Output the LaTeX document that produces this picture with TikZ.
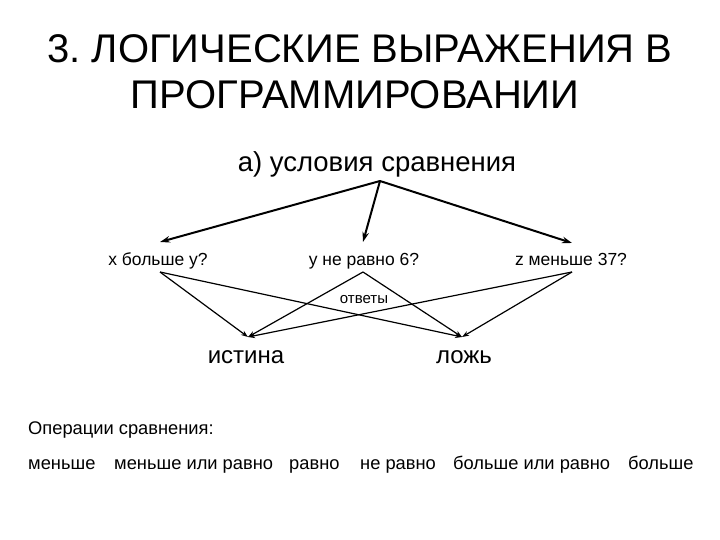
\documentclass[tikz,border=0pt]{standalone}
\usepackage{fontspec}
\setmainfont{Liberation Sans}
\usetikzlibrary{arrows.meta}
\frenchspacing
\begin{document}
\begin{tikzpicture}[x=1pt,y=-1pt,
  txt/.style={inner sep=0pt,anchor=base},
  big/.style={-{Stealth[length=10pt,width=6.5pt]},line width=2pt},
  thin/.style={-{Stealth[length=7pt,width=5pt]},line width=1.2pt}]
\useasboundingbox (0,0) rectangle (720,540);
\node[txt,font=\fontsize{40}{40}\selectfont] (title1) at (360,63) {3. ЛОГИЧЕСКИЕ ВЫРАЖЕНИЯ В};
\node[txt,font=\fontsize{40}{40}\selectfont] (title2) at (355,109) {ПРОГРАММИРОВАНИИ};
\node[txt,font=\fontsize{27.5}{27.5}\selectfont] (root) at (377,172) {а) условия сравнения};
\coordinate (src) at (380,181);
\node[txt,font=\fontsize{17.5}{17.5}\selectfont] (q1) at (158,265) {x больше y?};
\node[txt,font=\fontsize{17.5}{17.5}\selectfont] (q2) at (364,265) {y не равно 6?};
\node[txt,font=\fontsize{17.5}{17.5}\selectfont] (q3) at (571,265) {z меньше 37?};
\coordinate (q1t) at (160,242);
\coordinate (q2t) at (363,242);
\coordinate (q3t) at (572,243);
\coordinate (q1b) at (160,272);
\coordinate (q2b) at (363,272);
\coordinate (q3b) at (572,272);
\node[txt,font=\fontsize{15}{15}\selectfont] (ans) at (364,303) {ответы};
\node[txt,font=\fontsize{24}{24}\selectfont] (t) at (246,363) {истина};
\node[txt,font=\fontsize{24}{24}\selectfont] (f) at (464,363) {ложь};
\coordinate (tt) at (248,337);
\coordinate (ft) at (462,337);
\draw[big] (src) -- (q1t);
\draw[big] (src) -- (q2t);
\draw[big] (src) -- (q3t);
\draw[thin] (q1b) -- (tt);
\draw[thin] (q1b) -- (ft);
\draw[thin] (q2b) -- (tt);
\draw[thin] (q2b) -- (ft);
\draw[thin] (q3b) -- (tt);
\draw[thin] (q3b) -- (ft);
\node[txt,anchor=base west,font=\fontsize{18.3}{18.3}\selectfont] (ops) at (28,434) {Операции сравнения:};
\begin{scope}[every node/.style={txt,anchor=base west,font=\fontsize{18.3}{18.3}\selectfont}]
\node (o1) at (28,469) {меньше};
\node (o2) at (114,469) {меньше или равно};
\node (o3) at (289,469) {равно};
\node (o4) at (360,469) {не равно};
\node (o5) at (453,469) {больше или равно};
\node (o6) at (628,469) {больше};
\end{scope}
\end{tikzpicture}
\end{document}
